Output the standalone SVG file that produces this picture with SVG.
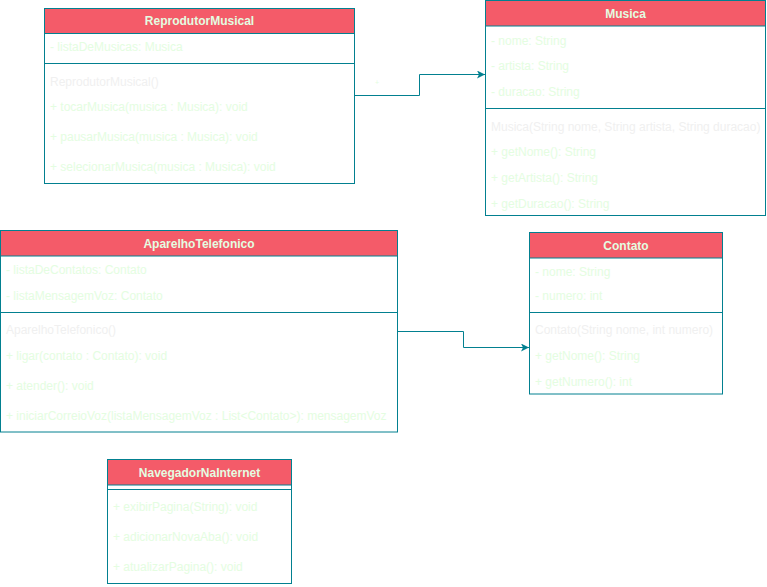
<svg xmlns="http://www.w3.org/2000/svg" width="767" height="587" viewBox="0 0 767 587">
<defs>
<marker id="arr" viewBox="0 0 10 10" refX="10" refY="5" markerWidth="9" markerHeight="8" markerUnits="userSpaceOnUse" orient="auto">
<path d="M0,0 L10,5 L0,10 L2.5,5 Z" fill="#028090"/>
</marker>
<style>
.box{fill:#ffffff;stroke:#028090;stroke-width:1}
.hdr{fill:#F45B69;stroke:#028090;stroke-width:1}
.div{stroke:#028090;stroke-width:1}
.t{font-family:"Liberation Sans",Arial,sans-serif;font-size:12px;fill:#E4FDE1}
.c{font-family:"Liberation Sans",Arial,sans-serif;font-size:12px;fill:#F0F0F0}
.h{font-family:"Liberation Sans",Arial,sans-serif;font-size:12px;font-weight:bold;fill:#E4FDE1;text-anchor:middle}
.e{fill:none;stroke:#028090;stroke-width:1}
</style>
</defs>
<rect width="767" height="587" fill="#ffffff"/>
<g id="connectors">
<path class="e" d="M354.5,95.5 H419.5 V74.5 H485" marker-end="url(#arr)"/>
<path class="e" d="M397.5,331.5 H463.5 V347.5 H529" marker-end="url(#arr)"/>
<text x="377" y="85" font-family="Liberation Sans,Arial,sans-serif" font-size="7" fill="#E4FDE1" text-anchor="middle">+</text>
</g>
<g id="ReprodutorMusical">
<rect class="box" x="44.5" y="8.5" width="310" height="175"/>
<rect class="hdr" x="44.5" y="8.5" width="310" height="25"/>
<line class="div" x1="44.5" y1="63.5" x2="354.5" y2="63.5"/>
<text class="h" x="199.5" y="24.5">ReprodutorMusical</text>
<text class="t" x="50" y="51">- listaDeMusicas: Musica</text>
<text class="c" x="50" y="85.5">ReprodutorMusical()</text>
<text class="t" x="50" y="110.5">+ tocarMusica(musica : Musica): void</text>
<text class="t" x="50" y="141">+ pausarMusica(musica : Musica): void</text>
<text class="t" x="50" y="171">+ selecionarMusica(musica : Musica): void</text>
</g>
<g id="Musica">
<rect class="box" x="485.5" y="0.5" width="280" height="215"/>
<rect class="hdr" x="485.5" y="0.5" width="280" height="25.5"/>
<line class="div" x1="485.5" y1="108.5" x2="765.5" y2="108.5"/>
<text class="h" x="625.5" y="18">Musica</text>
<text class="t" x="491" y="44.5">- nome: String</text>
<text class="t" x="491" y="70">- artista: String</text>
<text class="t" x="491" y="96">- duracao: String</text>
<text class="c" x="491" y="130.5">Musica(String nome, String artista, String duracao)</text>
<text class="t" x="491" y="156">+ getNome(): String</text>
<text class="t" x="491" y="182">+ getArtista(): String</text>
<text class="t" x="491" y="208">+ getDuracao(): String</text>
</g>
<g id="AparelhoTelefonico">
<rect class="box" x="0.5" y="230.5" width="397" height="201.5"/>
<rect class="hdr" x="0.5" y="230.5" width="397" height="25.5"/>
<line class="div" x1="0.5" y1="312.5" x2="397.5" y2="312.5"/>
<text class="h" x="199" y="248">AparelhoTelefonico</text>
<text class="t" x="6" y="274">- listaDeContatos: Contato</text>
<text class="t" x="6" y="300">- listaMensagemVoz: Contato</text>
<text class="c" x="6" y="334">AparelhoTelefonico()</text>
<text class="t" x="6" y="360">+ ligar(contato : Contato): void</text>
<text class="t" x="6" y="389.5">+ atender(): void</text>
<text class="t" x="6" y="420">+ iniciarCorreioVoz(listaMensagemVoz : List&lt;Contato&gt;): mensagemVoz</text>
</g>
<g id="Contato">
<rect class="box" x="529.5" y="232.5" width="193" height="161.5"/>
<rect class="hdr" x="529.5" y="232.5" width="193" height="25.5"/>
<line class="div" x1="529.5" y1="312.5" x2="722.5" y2="312.5"/>
<text class="h" x="626" y="250">Contato</text>
<text class="t" x="535" y="276">- nome: String</text>
<text class="t" x="535" y="299.5">- numero: int</text>
<text class="c" x="535" y="333.5">Contato(String nome, int numero)</text>
<text class="t" x="535" y="360">+ getNome(): String</text>
<text class="t" x="535" y="386">+ getNumero(): int</text>
</g>
<g id="NavegadorNaInternet">
<rect class="box" x="107.5" y="459.5" width="184" height="124"/>
<rect class="hdr" x="107.5" y="459.5" width="184" height="25.5"/>
<line class="div" x1="107.5" y1="489.5" x2="291.5" y2="489.5"/>
<text class="h" x="199.5" y="477">NavegadorNaInternet</text>
<text class="t" x="113" y="511">+ exibirPagina(String): void</text>
<text class="t" x="113" y="540.5">+ adicionarNovaAba(): void</text>
<text class="t" x="113" y="570.5">+ atualizarPagina(): void</text>
</g>
</svg>
